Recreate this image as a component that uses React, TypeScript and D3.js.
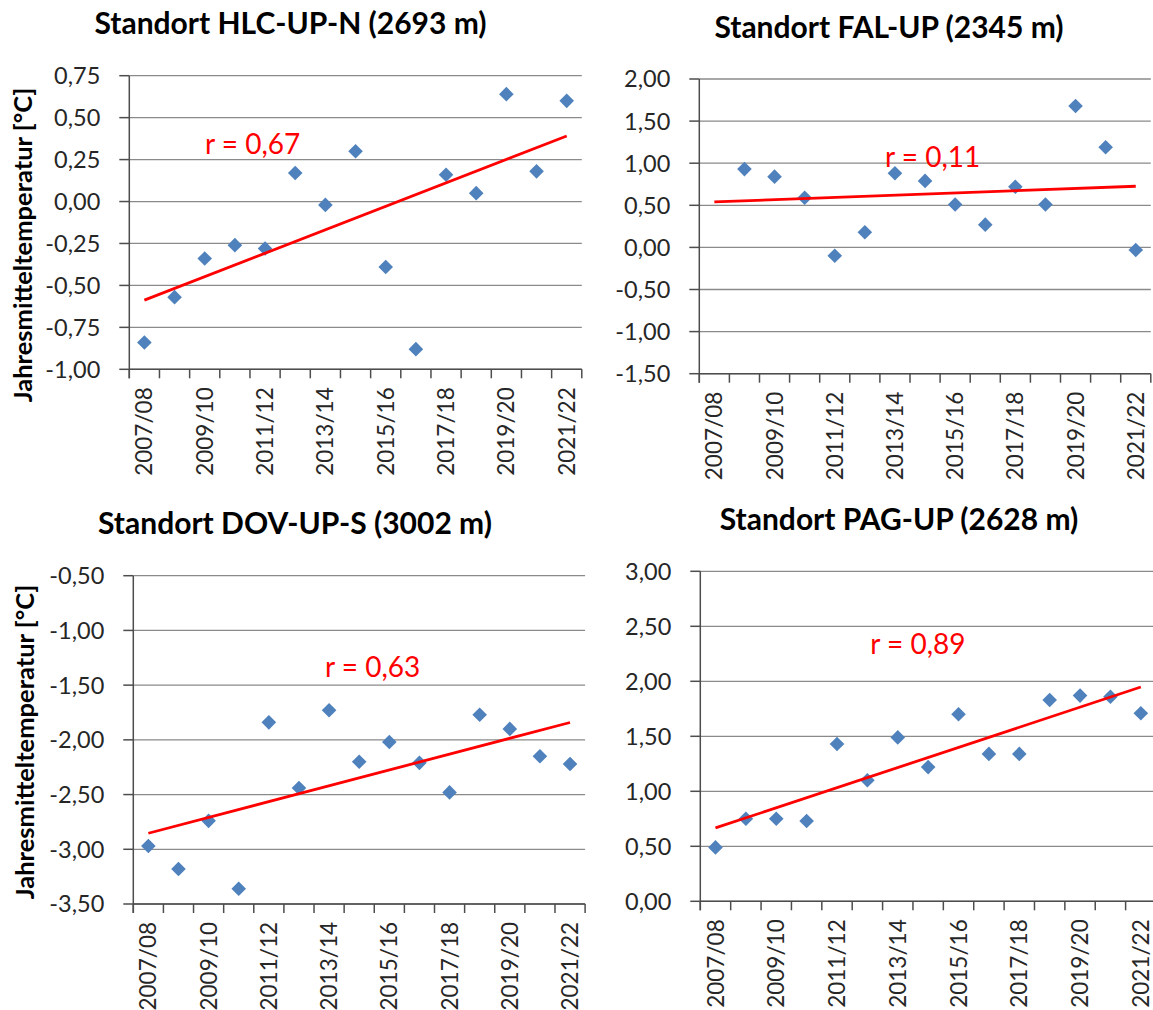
import React from "react";
import * as d3 from "d3";

// Winter seasons on the category axis
const seasons = [
  "2007/08", "2008/09", "2009/10", "2010/11", "2011/12", "2012/13", "2013/14",
  "2014/15", "2015/16", "2016/17", "2017/18", "2018/19", "2019/20", "2020/21", "2021/22",
];
// Only every other season is labelled
const seasonLabels = ["2007/08", "2009/10", "2011/12", "2013/14", "2015/16", "2017/18", "2019/20", "2021/22"];

// Annual mean temperature [°C] per site
const hlcUpN = [-0.84, -0.57, -0.34, -0.26, -0.28, 0.17, -0.02, 0.3, -0.39, -0.88, 0.16, 0.05, 0.64, 0.18, 0.6];
const falUp = [null, 0.93, 0.84, 0.59, -0.1, 0.18, 0.88, 0.79, 0.51, 0.27, 0.72, 0.51, 1.68, 1.19, -0.03];
const dovUpS = [-2.97, -3.18, -2.74, -3.36, -1.84, -2.44, -1.73, -2.2, -2.02, -2.21, -2.48, -1.77, -1.9, -2.15, -2.22];
const pagUp = [0.49, 0.75, 0.75, 0.73, 1.43, 1.1, 1.49, 1.22, 1.7, 1.34, 1.34, 1.83, 1.87, 1.86, 1.71];

// Y-axis ticks per site
const hlcTicks = [-1, -0.75, -0.5, -0.25, 0, 0.25, 0.5, 0.75];
const falTicks = [-1.5, -1, -0.5, 0, 0.5, 1, 1.5, 2];
const dovTicks = [-3.5, -3, -2.5, -2, -1.5, -1, -0.5];
const pagTicks = [0, 0.5, 1, 1.5, 2, 2.5, 3];

// Site titles and correlation labels
const titles = [
  "Standort HLC-UP-N (2693 m)",
  "Standort FAL-UP (2345 m)",
  "Standort DOV-UP-S (3002 m)",
  "Standort PAG-UP (2628 m)",
];
const rLabels = ["r = 0,67", "r = 0,11", "r = 0,63", "r = 0,89"];
const yAxisTitle = "Jahresmitteltemperatur [°C]";

type Layout = {
  left: number; right: number; top: number; bottom: number;
  titleX: number; titleY: number;
  rX: number; rY: number;
  axisTitle?: { x: number; y: number };
};

const FONT = "Lato, 'Open Sans', sans-serif";
const GRID = "#8a8a8a";
const AXIS = "#4d4d4d";
const MARKER = "#4f81bd";
const TREND = "#ff0000";

const fmt = (v: number) => v.toFixed(2).replace(".", ",");

function fitLine(values: (number | null)[]) {
  const pts = values
    .map((v, i) => (v == null ? null : [i, v] as [number, number]))
    .filter((p): p is [number, number] => p !== null);
  const mx = d3.mean(pts, (p) => p[0]) as number;
  const my = d3.mean(pts, (p) => p[1]) as number;
  const sxy = d3.sum(pts, (p) => (p[0] - mx) * (p[1] - my));
  const sxx = d3.sum(pts, (p) => (p[0] - mx) ** 2);
  const slope = sxy / sxx;
  return (i: number) => my + slope * (i - mx);
}

function Panel({
  title, values, ticks, rLabel, layout,
}: {
  title: string; values: (number | null)[]; ticks: number[]; rLabel: string; layout: Layout;
}) {
  const x = d3.scaleBand<string>().domain(seasons).range([layout.left, layout.right]);
  const y = d3.scaleLinear().domain([ticks[0], ticks[ticks.length - 1]]).range([layout.bottom, layout.top]);
  const cx = (s: string) => (x(s) as number) + x.bandwidth() / 2;
  const trend = fitLine(values);
  const first = 0;
  const last = seasons.length - 1;
  const lineGen = d3.line<number>().x((i) => cx(seasons[i])).y((i) => y(trend(i)));
  const boundaries = d3.range(seasons.length + 1).map((i) => layout.left + i * x.bandwidth());
  const r = 7.3;

  return (
    <g>
      <text x={layout.titleX} y={layout.titleY} textAnchor="middle" fontFamily={FONT}
        fontWeight={700} fontSize={30} fill="#000">{title}</text>

      {ticks.map((t) => (
        <line key={"g" + t} x1={layout.left} x2={layout.right} y1={y(t)} y2={y(t)}
          stroke={GRID} strokeWidth={1.3} />
      ))}

      {/* y axis */}
      <line x1={layout.left} x2={layout.left} y1={layout.top} y2={layout.bottom + 9} stroke={AXIS} strokeWidth={1.5} />
      {ticks.map((t) => (
        <g key={"t" + t}>
          <line x1={layout.left - 10} x2={layout.left} y1={y(t)} y2={y(t)} stroke={AXIS} strokeWidth={1.5} />
          <text x={layout.left - 29} y={y(t)} dy="0.36em" textAnchor="end" fontFamily={FONT}
            fontSize={23.5} fill="#262626">{fmt(t)}</text>
        </g>
      ))}

      {/* x axis */}
      <line x1={layout.left} x2={layout.right} y1={layout.bottom} y2={layout.bottom} stroke={AXIS} strokeWidth={1.5} />
      {boundaries.map((bx, i) => (
        <line key={"b" + i} x1={bx} x2={bx} y1={layout.bottom} y2={layout.bottom + 9} stroke={AXIS} strokeWidth={1.5} />
      ))}
      {seasonLabels.map((s) => (
        <text key={s} transform={`translate(${cx(s)},${layout.bottom + 18}) rotate(-90)`}
          dy="0.36em" textAnchor="end" fontFamily={FONT} fontSize={22.5} fill="#262626">{s}</text>
      ))}

      {values.map((v, i) =>
        v == null ? null : (
          <path key={"m" + i}
            d={`M${cx(seasons[i])},${y(v) - r}L${cx(seasons[i]) + r},${y(v)}L${cx(seasons[i])},${y(v) + r}L${cx(seasons[i]) - r},${y(v)}Z`}
            fill={MARKER} />
        )
      )}

      <path d={lineGen([first, last]) || ""} stroke={TREND} strokeWidth={2.8} fill="none" />

      <text x={layout.rX} y={layout.rY} fontFamily={FONT} fontSize={28} fill={TREND}>{rLabel}</text>

      {layout.axisTitle && (
        <text transform={`translate(${layout.axisTitle.x},${layout.axisTitle.y}) rotate(-90)`}
          textAnchor="middle" fontFamily={FONT} fontWeight={700} fontSize={25.5} fill="#000">{yAxisTitle}</text>
      )}
    </g>
  );
}

const layouts: Layout[] = [
  { left: 129.3, right: 581.8, top: 75.7, bottom: 369.3, titleX: 290.5, titleY: 33.5, rX: 205, rY: 154, axisTitle: { x: 32, y: 245 } },
  { left: 699.3, right: 1150.8, top: 79, bottom: 373.7, titleX: 889, titleY: 38, rX: 885, rY: 166.7 },
  { left: 133.3, right: 585.1, top: 575.7, bottom: 904, titleX: 295, titleY: 534, rX: 325, rY: 676.7, axisTitle: { x: 34, y: 742 } },
  { left: 700.3, right: 1156, top: 571.3, bottom: 901.3, titleX: 899, titleY: 530, rX: 870.3, rY: 654 },
];

const series = [hlcUpN, falUp, dovUpS, pagUp];
const tickSets = [hlcTicks, falTicks, dovTicks, pagTicks];

export default function App() {
  return (
    <svg width={1153} height={1010} viewBox="0 0 1153 1010"
      style={{ position: "absolute", left: 0, top: 0, display: "block", background: "#fff" }}>
      <rect width={1153} height={1010} fill="#fff" />
      {series.map((vals, k) => (
        <Panel key={k} title={titles[k]} values={vals} ticks={tickSets[k]} rLabel={rLabels[k]} layout={layouts[k]} />
      ))}
    </svg>
  );
}
